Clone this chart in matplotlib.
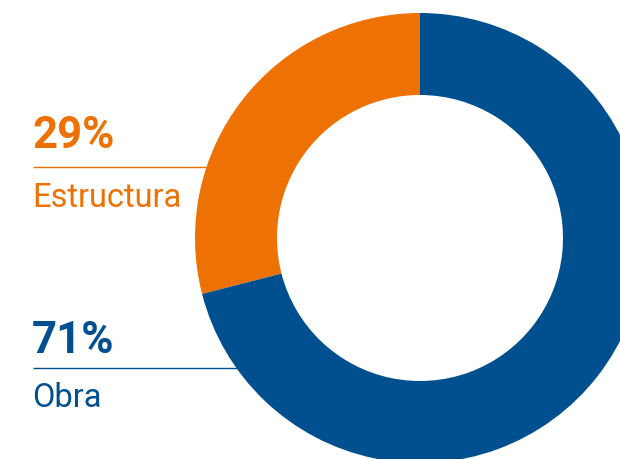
import matplotlib
matplotlib.use("Agg")
import matplotlib.pyplot as plt
from matplotlib import font_manager

categories = ["Estructura", "Obra"]
values = [29, 71]
labels_pct = ["29%", "71%"]
colors = ["#EE7203", "#00508F"]

names = {f.name for f in font_manager.fontManager.ttflist}
fam = "Liberation Sans Narrow" if "Liberation Sans Narrow" in names else "Roboto"

W, H = 620, 459
fig = plt.figure(figsize=(W / 100, H / 100), dpi=100)
ax = fig.add_axes([0, 0, 1, 1])

cx, cy, R = 420, H - 238, 225
ax.pie(values, colors=colors, startangle=90, counterclock=True,
       center=(cx, cy), radius=R, frame=True,
       wedgeprops=dict(width=R - 143, edgecolor="none", zorder=3))
ax.set_xlim(0, W)
ax.set_ylim(0, H)
ax.set_aspect("equal")
ax.axis("off")

# label blocks
pct_y = [148, 353]
line_y = [167, 368]
name_y = [207, 407]
for i in range(2):
    ax.text(32, H - pct_y[i], labels_pct[i], color=colors[i], fontsize=31.5,
            fontweight="bold", family=fam, ha="left", va="baseline")
    ax.plot([33, 280], [H - line_y[i]] * 2, color=colors[i], lw=1, zorder=1,
            solid_capstyle="butt")
    ax.text(32, H - name_y[i], categories[i], color=colors[i], fontsize=23.5,
            family=fam, ha="left", va="baseline")

fig.savefig("out.png", dpi=100)
